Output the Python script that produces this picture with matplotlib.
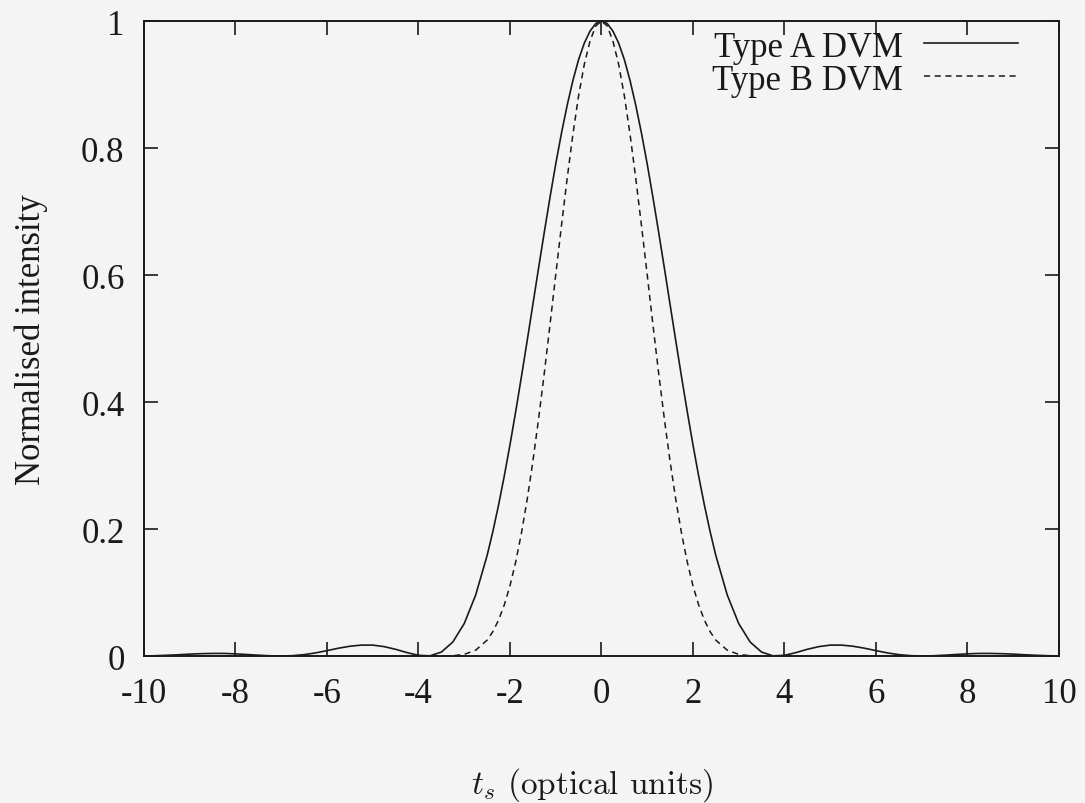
import numpy as np
import matplotlib
matplotlib.use("Agg")
import matplotlib.pyplot as plt
from matplotlib.ticker import FuncFormatter

# half profile (curves are symmetric about t_s = 0)
t_half = [0.0, 0.125, 0.25, 0.375, 0.5, 0.625, 0.75, 0.875, 1.0, 1.125,
          1.25, 1.375, 1.5, 1.625, 1.75, 1.875, 2.0, 2.125, 2.25, 2.375,
          2.5, 2.75, 3.0, 3.25, 3.5, 3.75, 4.0, 4.25, 4.5, 4.75,
          5.0, 5.25, 5.5, 5.75, 6.0, 6.25, 6.5, 6.75, 7.0, 7.25,
          7.5, 7.75, 8.0, 8.25, 8.5, 8.75, 9.0, 9.25, 9.5, 9.75, 10.0]
type_a_half = [1.0, 0.9961, 0.9841, 0.9653, 0.9393, 0.9062, 0.8672, 0.8232,
               0.7748, 0.7223, 0.6674, 0.6109, 0.5534, 0.4961, 0.4397, 0.3849,
               0.3326, 0.2833, 0.2376, 0.1958, 0.1582, 0.0960, 0.0511, 0.0220,
               0.0062, 0.0003, 0.0011, 0.0054, 0.0106, 0.0148, 0.0172, 0.0172,
               0.0154, 0.0123, 0.0085, 0.0049, 0.0022, 0.0006, 0.0, 0.0004,
               0.0013, 0.0024, 0.0034, 0.0041, 0.0041, 0.0037, 0.0030, 0.0020,
               0.0012, 0.0005, 0.0001]
type_b_half = [1.0, 0.9922, 0.9685, 0.9319, 0.8823, 0.8213, 0.7520, 0.6776,
               0.6003, 0.5218, 0.4454, 0.3732, 0.3063, 0.2461, 0.1933, 0.1482,
               0.1106, 0.0803, 0.0565, 0.0383, 0.0250, 0.0092, 0.0026, 0.0005,
               0.0, 0.0, 0.0, 0.0, 0.0001, 0.0002, 0.0003, 0.0003,
               0.0002, 0.0002, 0.0001, 0.0, 0.0, 0.0, 0.0, 0.0,
               0.0, 0.0, 0.0, 0.0, 0.0, 0.0, 0.0, 0.0,
               0.0, 0.0, 0.0]

x_ticks = [-10, -8, -6, -4, -2, 0, 2, 4, 6, 8, 10]
y_ticks = [0, 0.2, 0.4, 0.6, 0.8, 1]

t = np.array(t_half)
ts = np.concatenate([-t[::-1], t[1:]])
ya = np.concatenate([np.array(type_a_half)[::-1], type_a_half[1:]])
yb = np.concatenate([np.array(type_b_half)[::-1], type_b_half[1:]])

plt.rcParams['font.family'] = ['Liberation Serif', 'DejaVu Serif']
plt.rcParams['mathtext.fontset'] = 'cm'
fs = 25
ink = '#1a1a1a'
bg = '#f4f4f4'

fig = plt.figure(figsize=(10.85, 8.04), dpi=100, facecolor=bg)
ax = fig.add_axes([0.1327, 0.1828, 0.976 - 0.1327, 0.9726 - 0.1828])
ax.set_facecolor(bg)

ax.plot(ts, ya, color=ink, lw=1.2, label='Type A DVM')
ax.plot(ts, yb, color=ink, lw=1.1, dashes=(4, 3), label='Type B DVM')

ax.set_xlim(-10, 10)
ax.set_ylim(0, 1)
ax.set_xticks(x_ticks)
ax.set_yticks(y_ticks)
fmt = FuncFormatter(lambda v, p: f"{v:g}")
ax.xaxis.set_major_formatter(fmt)
ax.yaxis.set_major_formatter(fmt)
ax.tick_params(direction='in', length=10, width=1.2, color=ink,
               top=True, right=True, labelsize=fs, labelcolor=ink)
ax.tick_params(axis='x', pad=15)
ax.tick_params(axis='y', pad=14)
for s in ax.spines.values():
    s.set_linewidth(1.4)
    s.set_color(ink)

ax.set_ylabel('Normalised intensity', fontsize=fs, color=ink)
ax.yaxis.set_label_coords(-0.105, 0.5)
ax.set_xlabel(r'$t_s$ (optical units)', fontsize=24, color=ink,
              family=['cmr10', 'DejaVu Serif'])
ax.xaxis.set_label_coords(0.49, -0.172)

leg = ax.legend(loc='upper right', bbox_to_anchor=(0.955, 0.985), frameon=False,
                markerfirst=False, fontsize=fs, handlelength=2.7,
                handletextpad=0.6, labelspacing=0.0, borderpad=0,
                borderaxespad=0)
for txt in leg.get_texts():
    txt.set_color(ink)

fig.savefig('out.png', dpi=100, facecolor=bg)
